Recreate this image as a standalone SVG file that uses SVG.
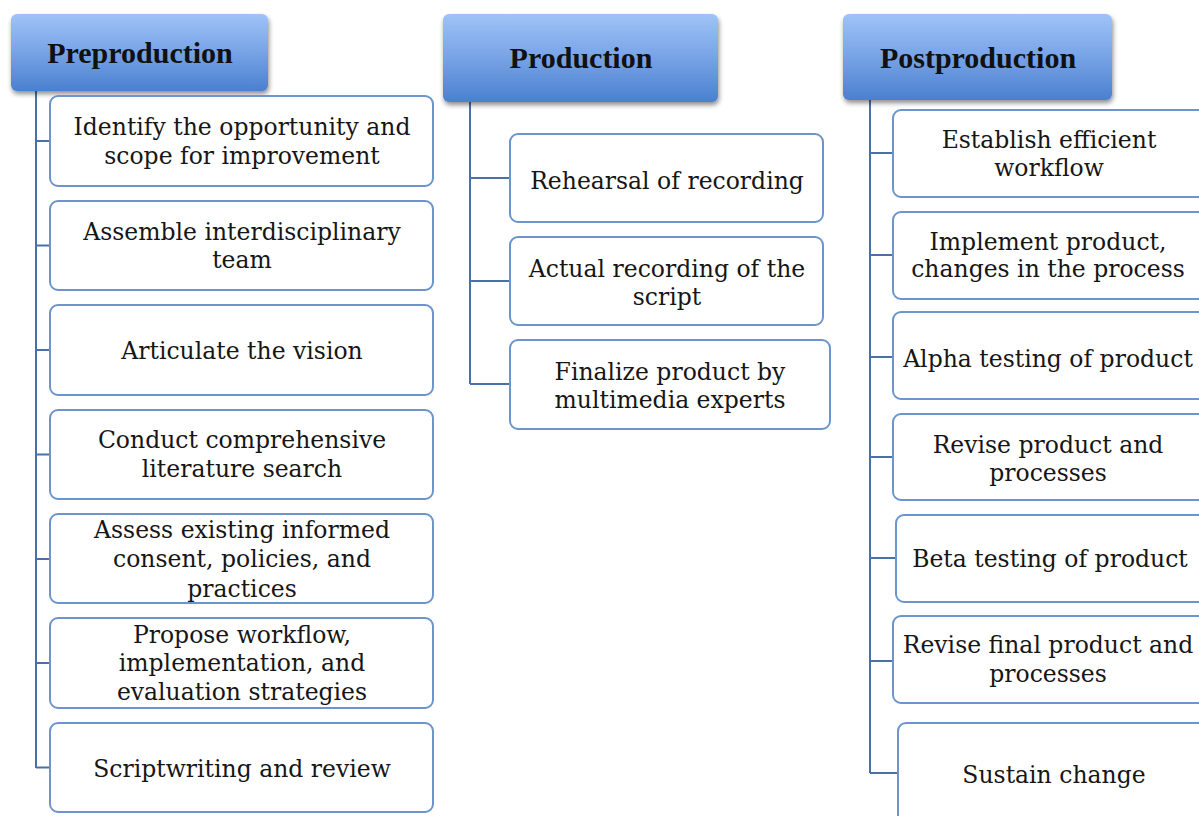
<svg xmlns="http://www.w3.org/2000/svg" width="1199" height="816" viewBox="0 0 1199 816">
  <defs>
    <linearGradient id="hdrFill" x1="0" y1="0" x2="0" y2="1">
      <stop offset="0" stop-color="#9fc3f7"/>
      <stop offset="0.5" stop-color="#77a3e6"/>
      <stop offset="1" stop-color="#4a80d0"/>
    </linearGradient>
    <filter id="hdrShadow" x="-10%" y="-10%" width="125%" height="135%">
      <feGaussianBlur in="SourceAlpha" stdDeviation="2.5"/>
      <feOffset dx="1" dy="3" result="b"/>
      <feComponentTransfer><feFuncA type="linear" slope="0.45"/></feComponentTransfer>
      <feMerge><feMergeNode/><feMergeNode in="SourceGraphic"/></feMerge>
    </filter>
  </defs>
  <style>
    .hdr { fill: url(#hdrFill); filter: url(#hdrShadow); }
    .hdr-t { font-family: "Liberation Serif", "Times New Roman", serif; font-weight: bold; font-size: 30px; fill: #111; text-anchor: middle; }
    .box { fill: #ffffff; stroke: #6b95cc; stroke-width: 2; }
    .box-t { font-family: "DejaVu Serif", "Liberation Serif", serif; font-size: 23.5px; fill: #161616; text-anchor: middle; }
    .conn { fill: none; stroke: #4b70a8; stroke-width: 2; }
  </style>

  <rect width="1199" height="816" fill="#ffffff"/>

  <!-- tree connectors -->
  <g id="connectors">
    <path class="conn" d="M36 90 V768 M36 141 H50 M36 245.5 H50 M36 350 H50 M36 454.5 H50 M36 559 H50 M36 663 H50 M36 767.5 H50"/>
    <path class="conn" d="M470 102 V384 M470 178 H510 M470 281 H510 M470 384 H510"/>
    <path class="conn" d="M870 100 V773 M870 153 H893 M870 255 H893 M870 357 H893 M870 457 H893 M870 558 H896 M870 661 H893 M870 773 H898"/>
  </g>

  <!-- column headers -->
  <g id="hdr-preproduction">
    <rect class="hdr" x="11" y="14" width="257" height="77" rx="6"/>
    <text class="hdr-t" x="140" y="63">Preproduction</text>
  </g>
  <g id="hdr-production">
    <rect class="hdr" x="443" y="14" width="275" height="88" rx="6"/>
    <text class="hdr-t" x="581" y="68">Production</text>
  </g>
  <g id="hdr-postproduction">
    <rect class="hdr" x="843" y="14" width="269" height="86" rx="6"/>
    <text class="hdr-t" x="978" y="68">Postproduction</text>
  </g>

  <!-- preproduction steps -->
  <g id="pre-1">
    <rect class="box" x="50" y="96" width="383" height="90" rx="8"/>
    <text class="box-t" x="242" y="135">Identify the opportunity and</text>
    <text class="box-t" x="242" y="164">scope for improvement</text>
  </g>
  <g id="pre-2">
    <rect class="box" x="50" y="201" width="383" height="89" rx="8"/>
    <text class="box-t" x="242" y="240">Assemble interdisciplinary</text>
    <text class="box-t" x="242" y="268">team</text>
  </g>
  <g id="pre-3">
    <rect class="box" x="50" y="305" width="383" height="90" rx="8"/>
    <text class="box-t" x="242" y="359">Articulate the vision</text>
  </g>
  <g id="pre-4">
    <rect class="box" x="50" y="410" width="383" height="89" rx="8"/>
    <text class="box-t" x="242" y="448">Conduct comprehensive</text>
    <text class="box-t" x="242" y="477">literature search</text>
  </g>
  <g id="pre-5">
    <rect class="box" x="50" y="514" width="383" height="89" rx="8"/>
    <text class="box-t" x="242" y="538">Assess existing informed</text>
    <text class="box-t" x="242" y="567">consent, policies, and</text>
    <text class="box-t" x="242" y="597">practices</text>
  </g>
  <g id="pre-6">
    <rect class="box" x="50" y="618" width="383" height="90" rx="8"/>
    <text class="box-t" x="242" y="643">Propose workflow,</text>
    <text class="box-t" x="242" y="671">implementation, and</text>
    <text class="box-t" x="242" y="700">evaluation strategies</text>
  </g>
  <g id="pre-7">
    <rect class="box" x="50" y="723" width="383" height="89" rx="8"/>
    <text class="box-t" x="242" y="777">Scriptwriting and review</text>
  </g>

  <!-- production steps -->
  <g id="prod-1">
    <rect class="box" x="510" y="134" width="313" height="88" rx="8"/>
    <text class="box-t" x="667" y="189">Rehearsal of recording</text>
  </g>
  <g id="prod-2">
    <rect class="box" x="510" y="237" width="313" height="88" rx="8"/>
    <text class="box-t" x="667" y="277">Actual recording of the</text>
    <text class="box-t" x="667" y="305">script</text>
  </g>
  <g id="prod-3">
    <rect class="box" x="510" y="340" width="320" height="89" rx="8"/>
    <text class="box-t" x="670" y="380">Finalize product by</text>
    <text class="box-t" x="670" y="408">multimedia experts</text>
  </g>

  <!-- postproduction steps -->
  <g id="post-1">
    <rect class="box" x="893" y="110" width="318" height="87" rx="8"/>
    <text class="box-t" x="1049" y="148">Establish efficient</text>
    <text class="box-t" x="1049" y="176">workflow</text>
  </g>
  <g id="post-2">
    <rect class="box" x="893" y="212" width="318" height="87" rx="8"/>
    <text class="box-t" x="1048" y="250">Implement product,</text>
    <text class="box-t" x="1048" y="277">changes in the process</text>
  </g>
  <g id="post-3">
    <rect class="box" x="893" y="312" width="318" height="87" rx="8"/>
    <text class="box-t" x="1048" y="367">Alpha testing of product</text>
  </g>
  <g id="post-4">
    <rect class="box" x="893" y="414" width="318" height="86" rx="8"/>
    <text class="box-t" x="1048" y="453">Revise product and</text>
    <text class="box-t" x="1048" y="481">processes</text>
  </g>
  <g id="post-5">
    <rect class="box" x="896" y="515" width="315" height="87" rx="8"/>
    <text class="box-t" x="1050" y="567">Beta testing of product</text>
  </g>
  <g id="post-6">
    <rect class="box" x="893" y="616" width="318" height="87" rx="8"/>
    <text class="box-t" x="1048" y="653">Revise final product and</text>
    <text class="box-t" x="1048" y="682">processes</text>
  </g>
  <g id="post-7">
    <rect class="box" x="898" y="723" width="313" height="110" rx="8"/>
    <text class="box-t" x="1054" y="783">Sustain change</text>
  </g>
</svg>
